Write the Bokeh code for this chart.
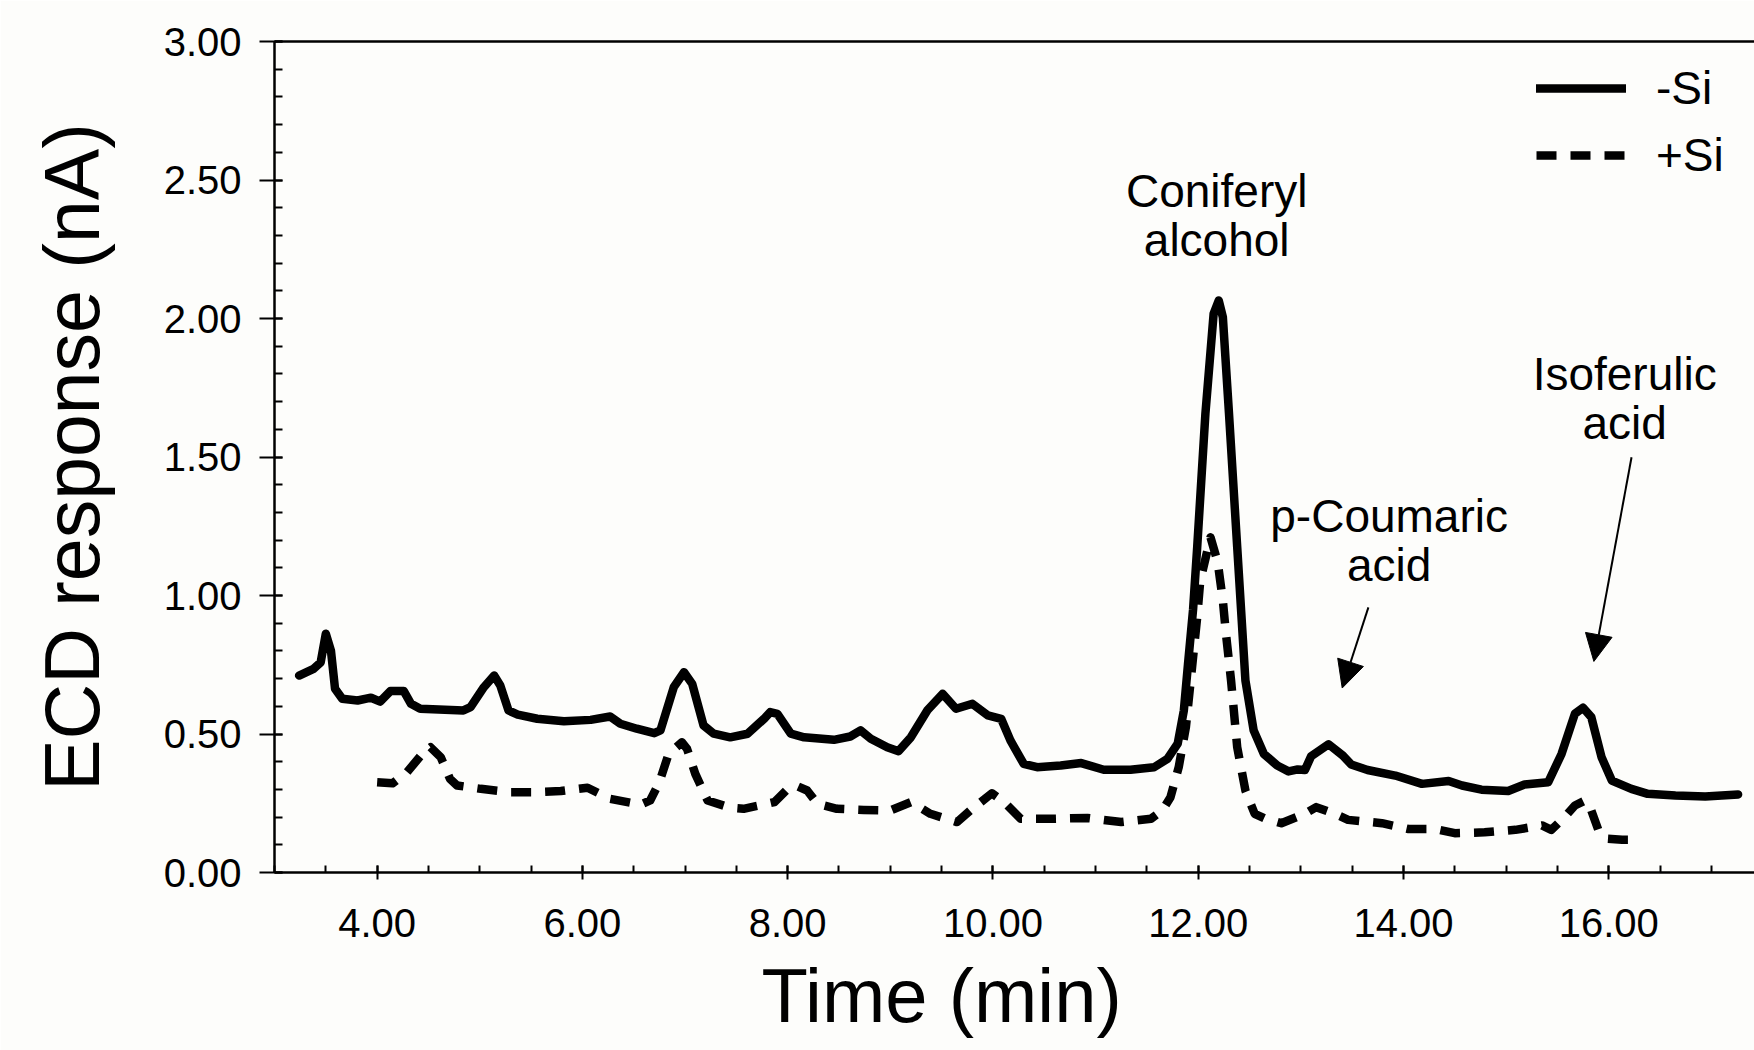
import numpy as np
from bokeh.plotting import figure
from bokeh.models import (Range1d, SingleIntervalTicker, PrintfTickFormatter, Legend,
                          LegendItem, Label, Arrow, NormalHead, LinearAxis, FixedTicker, Title)
from bokeh.embed import file_html
from bokeh.resources import INLINE

# ---------------- data ----------------
time_minus_si = [3.24, 3.38, 3.45, 3.50, 3.55, 3.59, 3.66, 3.81, 3.94, 4.03, 4.13, 4.26, 4.33,
                 4.42, 4.84, 4.91, 5.04, 5.14, 5.20, 5.28, 5.37, 5.56, 5.82, 6.08, 6.27, 6.37,
                 6.53, 6.70, 6.76, 6.89, 6.99, 7.07, 7.18, 7.28, 7.44, 7.61, 7.77, 7.83, 7.90,
                 8.03, 8.16, 8.45, 8.61, 8.71, 8.81, 8.97, 9.08, 9.20, 9.36, 9.51, 9.64, 9.80,
                 9.95, 10.08, 10.17, 10.30, 10.43, 10.66, 10.86, 11.08, 11.34, 11.57, 11.70,
                 11.80, 11.86, 11.90, 11.95, 11.99, 12.07, 12.15, 12.20, 12.24, 12.30, 12.38,
                 12.46, 12.54, 12.64, 12.77, 12.88, 12.97, 13.04, 13.10, 13.27, 13.41, 13.49,
                 13.65, 13.92, 14.18, 14.44, 14.57, 14.76, 15.02, 15.18, 15.41, 15.54, 15.67,
                 15.75, 15.83, 15.93, 16.03, 16.22, 16.38, 16.65, 16.94, 17.26]
resp_minus_si = [0.711, 0.735, 0.759, 0.862, 0.801, 0.663, 0.627, 0.621, 0.631, 0.617, 0.655,
                 0.655, 0.609, 0.591, 0.585, 0.597, 0.669, 0.711, 0.675, 0.585, 0.570, 0.555,
                 0.546, 0.551, 0.563, 0.537, 0.519, 0.503, 0.513, 0.669, 0.723, 0.681, 0.531,
                 0.501, 0.488, 0.501, 0.555, 0.579, 0.573, 0.501, 0.488, 0.479, 0.491, 0.513,
                 0.483, 0.452, 0.438, 0.488, 0.585, 0.645, 0.591, 0.609, 0.567, 0.555, 0.477,
                 0.392, 0.380, 0.386, 0.395, 0.371, 0.371, 0.380, 0.410, 0.465, 0.585, 0.750,
                 0.950, 1.174, 1.656, 2.017, 2.065, 2.005, 1.656, 1.174, 0.693, 0.513, 0.428,
                 0.386, 0.365, 0.372, 0.370, 0.420, 0.463, 0.422, 0.390, 0.370, 0.350, 0.320,
                 0.330, 0.314, 0.299, 0.294, 0.318, 0.326, 0.428, 0.573, 0.595, 0.561, 0.416,
                 0.332, 0.302, 0.284, 0.278, 0.274, 0.282]

time_plus_si = [4.00, 4.15, 4.29, 4.44, 4.52, 4.62, 4.71, 4.78, 5.01, 5.30, 5.53, 5.79, 6.05,
                6.27, 6.57, 6.66, 6.75, 6.84, 6.97, 7.02, 7.10, 7.22, 7.44, 7.57, 7.80, 7.87,
                8.00, 8.08, 8.19, 8.29, 8.48, 8.74, 9.00, 9.20, 9.39, 9.65, 9.78, 9.99, 10.11,
                10.27, 10.60, 10.92, 11.25, 11.54, 11.65, 11.73, 11.81, 11.88, 11.94, 11.99,
                12.02, 12.12, 12.19, 12.24, 12.27, 12.32, 12.38, 12.46, 12.55, 12.65, 12.81,
                13.04, 13.15, 13.33, 13.46, 13.79, 14.05, 14.31, 14.50, 14.79, 15.09, 15.35,
                15.44, 15.57, 15.67, 15.77, 15.83, 15.90, 15.98, 16.13, 16.32]
resp_plus_si = [0.326, 0.322, 0.362, 0.428, 0.452, 0.416, 0.338, 0.314, 0.302, 0.290, 0.290,
                0.294, 0.306, 0.266, 0.245, 0.260, 0.326, 0.428, 0.470, 0.446, 0.356, 0.260,
                0.234, 0.230, 0.248, 0.254, 0.302, 0.314, 0.296, 0.248, 0.230, 0.226, 0.224,
                0.254, 0.212, 0.182, 0.224, 0.286, 0.254, 0.194, 0.194, 0.197, 0.182, 0.194,
                0.224, 0.272, 0.380, 0.525, 0.741, 0.922, 1.054, 1.210, 1.120, 0.982, 0.863,
                0.693, 0.452, 0.296, 0.212, 0.195, 0.178, 0.212, 0.236, 0.212, 0.190, 0.178,
                0.157, 0.157, 0.142, 0.145, 0.154, 0.170, 0.154, 0.200, 0.242, 0.260, 0.224,
                0.152, 0.122, 0.118, 0.118]

series_labels = ["-Si", "+Si"]

# peak annotations: (lines of text, x, y of first line, y of second line)
peak_names = [["Coniferyl", "alcohol"], ["p-Coumaric", "acid"], ["Isoferulic", "acid"]]
peak_text_x = [12.18, 13.86, 16.155]
peak_text_y1 = [2.460, 1.287, 1.798]
peak_text_y2 = [2.285, 1.110, 1.623]
arrow_start = [(13.658, 0.957), (16.222, 1.499)]
arrow_end = [(13.403, 0.666), (15.855, 0.762)]

FONT = "Liberation Sans"
BG = "#fdfdfb"

p = figure(width=1754, height=1050, output_backend="svg", toolbar_location=None,
           x_range=Range1d(3.0, 17.42), y_range=Range1d(0, 3.0),
           min_border_left=274, min_border_right=0, min_border_top=41, min_border_bottom=178)
p.background_fill_color = BG
p.border_fill_color = BG
p.outline_line_color = None
p.xgrid.visible = False
p.ygrid.visible = False

# axes styling
for ax in (p.xaxis[0], p.yaxis[0]):
    ax.axis_line_width = 2.5
    ax.axis_line_color = "black"
    ax.major_tick_line_width = 2
    ax.minor_tick_line_width = 2
    ax.major_tick_line_color = "black"
    ax.minor_tick_line_color = "black"
    ax.major_label_text_font = FONT
    ax.major_label_text_font_size = "40px"
    ax.major_label_text_color = "black"
    ax.formatter = PrintfTickFormatter(format="%.2f")

p.yaxis.ticker = SingleIntervalTicker(interval=0.5, num_minor_ticks=5)
p.yaxis.major_tick_out = 15
p.yaxis.major_tick_in = 8
p.yaxis.minor_tick_in = 8
p.yaxis.minor_tick_out = 0
p.yaxis.major_label_standoff = 18
p.yaxis.axis_label = "ECD response (nA)"
p.yaxis.axis_label_text_font = FONT
p.yaxis.axis_label_text_font_size = "77px"
p.yaxis.axis_label_text_font_style = "normal"
p.yaxis.axis_label_text_color = "black"
p.yaxis.axis_label_standoff = 46

p.xaxis.ticker = SingleIntervalTicker(interval=2, num_minor_ticks=4)
p.xaxis.major_tick_out = 7
p.xaxis.major_tick_in = 7
p.xaxis.minor_tick_in = 7
p.xaxis.minor_tick_out = 0
p.xaxis.major_label_standoff = 29

top_axis = LinearAxis(ticker=FixedTicker(ticks=[]), axis_line_width=2.5, axis_line_color="black",
                      major_label_text_font_size="0px", major_tick_line_color=None,
                      minor_tick_line_color=None)
p.add_layout(top_axis, "above")

# curves
r_minus = p.line(time_minus_si, resp_minus_si, line_width=8.5, line_color="black",
                 line_join="round", line_cap="round")
r_plus = p.line(time_plus_si, resp_plus_si, line_width=8.5, line_color="black",
                line_dash="20 14", line_join="round")

legend = Legend(items=[LegendItem(label=series_labels[0], renderers=[r_minus]),
                       LegendItem(label=series_labels[1], renderers=[r_plus])],
                location=(1262, 690), glyph_width=90, glyph_height=40, label_standoff=30,
                spacing=13, padding=0, margin=0, border_line_color=None,
                background_fill_alpha=0, label_text_font=FONT, label_text_font_size="46px",
                label_text_color="black")
p.add_layout(legend)

# peak annotations
for names, tx, ty1, ty2 in zip(peak_names, peak_text_x, peak_text_y1, peak_text_y2):
    for txt, ty in zip(names, (ty1, ty2)):
        p.add_layout(Label(x=tx, y=ty, text=txt, text_align="center",
                           text_baseline="alphabetic", text_font=FONT,
                           text_font_size="46px", text_color="black"))

for (xs, ys), (xe, ye) in zip(arrow_start, arrow_end):
    p.add_layout(Arrow(end=NormalHead(size=27, fill_color="black", line_color="black",
                                      line_width=1),
                       x_start=xs, y_start=ys, x_end=xe, y_end=ye,
                       line_width=2, line_color="black"))

# x axis title (placed off-centre as in the reference)
x_title = Title(text="Time (min)", align="left", offset=487, standoff=23, text_font=FONT,
                text_font_size="76px", text_font_style="normal", text_color="black")
p.add_layout(x_title, "below")

open("out.html", "w").write(file_html(p, INLINE))
